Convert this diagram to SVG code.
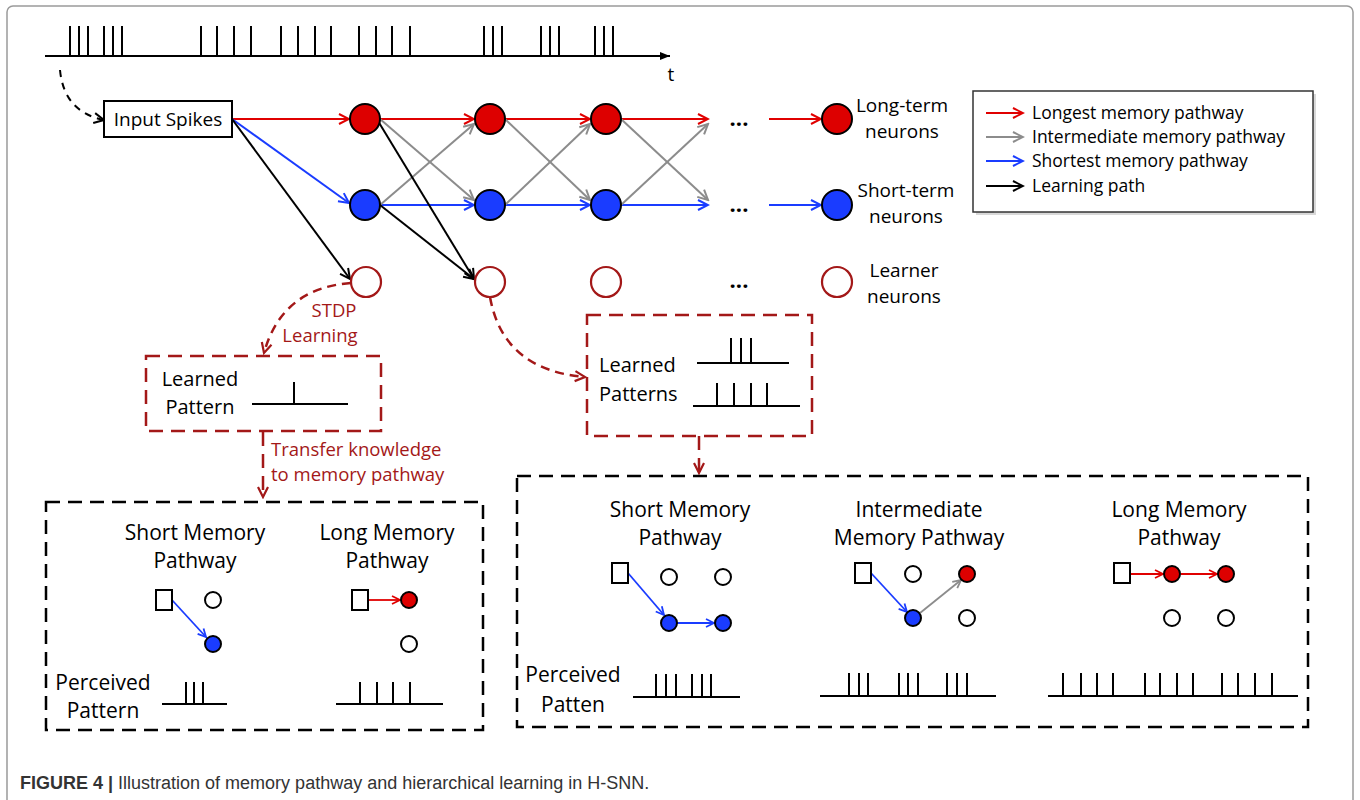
<svg xmlns="http://www.w3.org/2000/svg" width="1360" height="800" viewBox="0 0 1360 800">
<defs>
<style>
.lbl{font-family:"Open Sans","Liberation Sans",sans-serif;font-size:19px;fill:#000}
.leg{font-family:"Open Sans","Liberation Sans",sans-serif;font-size:17.5px;fill:#000}
.plbl{font-family:"Open Sans","Liberation Sans",sans-serif;font-size:20px;fill:#000}
.blbl{font-family:"Open Sans","Liberation Sans",sans-serif;font-size:21px;fill:#000}
.rlbl{font-family:"Open Sans","Liberation Sans",sans-serif;font-size:18.5px;fill:#a31818}
.dots{font-family:"Open Sans","Liberation Sans",sans-serif;font-size:22px;font-weight:bold;fill:#000}
.red{stroke:#e00000;stroke-width:2;fill:none;marker-end:url(#ar)}
.blue{stroke:#1a3cff;stroke-width:2;fill:none;marker-end:url(#ab)}
.gray{stroke:#8c8c8c;stroke-width:2;fill:none;marker-end:url(#ag)}
.blk{stroke:#000;stroke-width:2;fill:none;marker-end:url(#ak)}
.sred{stroke:#e00000;stroke-width:1.8;fill:none;marker-end:url(#sr)}
.sblue{stroke:#1a3cff;stroke-width:1.8;fill:none;marker-end:url(#sb)}
.sgray{stroke:#8c8c8c;stroke-width:1.8;fill:none;marker-end:url(#sg)}
.nr{fill:#dd0000;stroke:#000;stroke-width:2}
.nb{fill:#1a3cff;stroke:#000;stroke-width:2}
.nl{fill:#fff;stroke:#a31818;stroke-width:2.2}
.no{fill:#fff;stroke:#000;stroke-width:2}
.sq{fill:#fff;stroke:#000;stroke-width:2}
.spk{stroke:#000;stroke-width:2;fill:none}
.rdash{stroke:#a31818;stroke-width:2.5;fill:none;stroke-dasharray:14 8}
.kdash{stroke:#000;stroke-width:2.5;fill:none;stroke-dasharray:14 8}
.rcurve{stroke:#a31818;stroke-width:2.5;fill:none;stroke-dasharray:9 6;marker-end:url(#ad)}
</style>
<marker id="ar" markerUnits="userSpaceOnUse" markerWidth="14" markerHeight="14" viewBox="0 0 14 14" refX="12" refY="7" orient="auto"><path d="M2,2 L12,7 L2,12" fill="none" stroke="#e00000" stroke-width="2"/></marker>
<marker id="ab" markerUnits="userSpaceOnUse" markerWidth="14" markerHeight="14" viewBox="0 0 14 14" refX="12" refY="7" orient="auto"><path d="M2,2 L12,7 L2,12" fill="none" stroke="#1a3cff" stroke-width="2"/></marker>
<marker id="ag" markerUnits="userSpaceOnUse" markerWidth="14" markerHeight="14" viewBox="0 0 14 14" refX="12" refY="7" orient="auto"><path d="M2,2 L12,7 L2,12" fill="none" stroke="#8c8c8c" stroke-width="2"/></marker>
<marker id="ak" markerUnits="userSpaceOnUse" markerWidth="14" markerHeight="14" viewBox="0 0 14 14" refX="12" refY="7" orient="auto"><path d="M2,2 L12,7 L2,12" fill="none" stroke="#000" stroke-width="2"/></marker>
<marker id="ad" markerUnits="userSpaceOnUse" markerWidth="14" markerHeight="14" viewBox="0 0 14 14" refX="12" refY="7" orient="auto"><path d="M2,2 L12,7 L2,12" fill="none" stroke="#a31818" stroke-width="2.2"/></marker>
<marker id="sr" markerUnits="userSpaceOnUse" markerWidth="12" markerHeight="12" viewBox="0 0 12 12" refX="10" refY="6" orient="auto"><path d="M2,2 L10,6 L2,10" fill="none" stroke="#e00000" stroke-width="1.8"/></marker>
<marker id="sb" markerUnits="userSpaceOnUse" markerWidth="12" markerHeight="12" viewBox="0 0 12 12" refX="10" refY="6" orient="auto"><path d="M2,2 L10,6 L2,10" fill="none" stroke="#1a3cff" stroke-width="1.8"/></marker>
<marker id="sg" markerUnits="userSpaceOnUse" markerWidth="12" markerHeight="12" viewBox="0 0 12 12" refX="10" refY="6" orient="auto"><path d="M2,2 L10,6 L2,10" fill="none" stroke="#8c8c8c" stroke-width="1.8"/></marker>
<marker id="tri" markerUnits="userSpaceOnUse" markerWidth="12" markerHeight="12" viewBox="0 0 12 12" refX="11" refY="6" orient="auto"><path d="M1,2 L11,6 L1,10 Z" fill="#000"/></marker>
</defs>
<rect x="0" y="0" width="1360" height="800" fill="#fff"/>
<rect x="7" y="6" width="1346" height="830" rx="6" fill="none" stroke="#9a9a9a" stroke-width="1.5"/>

<g id="spike-train">
<path d="M45,56 L670,56" stroke="#000" stroke-width="2.2" fill="none" marker-end="url(#tri)"/>
<path class="spk" d="M70,26V56M79,26V56M88,26V56M104,26V56M113,26V56M122,26V56M201,26V56M217,26V56M234,26V56M251,26V56M281,26V56M298,26V56M315,26V56M331,26V56M359,26V56M376,26V56M392,26V56M410,26V56M484,26V56M493,26V56M502,26V56M541,26V56M550,26V56M559,26V56M595,26V56M604,26V56M613,26V56"/>
<text class="lbl" x="671" y="81" text-anchor="middle">t</text>
</g>

<g id="connectors">
<path d="M60,70 Q64,112 104,120" stroke="#000" stroke-width="2" fill="none" stroke-dasharray="7 6" marker-end="url(#ak)"/>
<path class="red" d="M232,119 L349,119"/>
<path class="red" d="M380,119 L474,119"/>
<path class="red" d="M505,119 L590,119"/>
<path class="red" d="M621,119 L708,119"/>
<path class="red" d="M769,119 L821,119"/>
<path class="blue" d="M232,119 L349,203"/>
<path class="blue" d="M380,205 L474,205"/>
<path class="blue" d="M505,205 L590,205"/>
<path class="blue" d="M621,205 L708,205"/>
<path class="blue" d="M769,205 L821,205"/>
<path class="gray" d="M380,119 L474,200"/>
<path class="gray" d="M380,205 L474,124"/>
<path class="gray" d="M505,119 L590,200"/>
<path class="gray" d="M505,205 L590,124"/>
<path class="gray" d="M621,119 L708,200"/>
<path class="gray" d="M621,205 L708,124"/>
<path class="blk" d="M232,119 L350,279"/>
<path class="blk" d="M378,121 L474,279"/>
<path class="blk" d="M380,205 L474,279"/>
<path class="rcurve" d="M351,283 Q282,288 264,353"/>
<path class="rcurve" d="M490,297 Q503,370 585,377"/>
<path class="rdash" d="M263,432 L263,497" stroke-dasharray="8 5" marker-end="url(#ad)"/>
<path class="rdash" d="M699,436 L699,473" stroke-dasharray="8 5" marker-end="url(#ad)"/>
</g>

<g id="input-spikes">
<rect x="104" y="101" width="128" height="36" fill="#fff" stroke="#000" stroke-width="2"/>
<text class="lbl" x="168" y="126" text-anchor="middle">Input Spikes</text>
</g>

<g id="long-term-neurons">
<circle class="nr" cx="365" cy="119" r="15"/>
<circle class="nr" cx="490" cy="119" r="15"/>
<circle class="nr" cx="606" cy="119" r="15"/>
<circle class="nr" cx="837" cy="119" r="15"/>
<text class="dots" x="739" y="126" text-anchor="middle">...</text>
<text class="lbl" x="902" y="112" text-anchor="middle">Long-term</text>
<text class="lbl" x="902" y="138" text-anchor="middle">neurons</text>
</g>

<g id="short-term-neurons">
<circle class="nb" cx="365" cy="205" r="15"/>
<circle class="nb" cx="490" cy="205" r="15"/>
<circle class="nb" cx="606" cy="205" r="15"/>
<circle class="nb" cx="837" cy="205" r="15"/>
<text class="dots" x="739" y="212" text-anchor="middle">...</text>
<text class="lbl" x="906" y="197" text-anchor="middle">Short-term</text>
<text class="lbl" x="906" y="223" text-anchor="middle">neurons</text>
</g>

<g id="learner-neurons">
<circle class="nl" cx="366" cy="282" r="15"/>
<circle class="nl" cx="490" cy="282" r="15"/>
<circle class="nl" cx="606" cy="282" r="15"/>
<circle class="nl" cx="837" cy="282" r="15"/>
<text class="dots" x="739" y="288" text-anchor="middle">...</text>
<text class="lbl" x="904" y="277" text-anchor="middle">Learner</text>
<text class="lbl" x="904" y="303" text-anchor="middle">neurons</text>
</g>

<g id="legend">
<rect x="976" y="94" width="340" height="121" fill="#d8d8d8"/>
<rect x="973" y="91" width="340" height="121" fill="#fff" stroke="#333" stroke-width="1.5"/>
<path class="red" d="M986,113 L1023,113"/>
<path class="gray" d="M986,137 L1023,137"/>
<path class="blue" d="M986,161 L1023,161"/>
<path class="blk" d="M986,186 L1023,186"/>
<text class="leg" x="1032" y="119">Longest memory pathway</text>
<text class="leg" x="1032" y="143">Intermediate memory pathway</text>
<text class="leg" x="1032" y="167">Shortest memory pathway</text>
<text class="leg" x="1032" y="192">Learning path</text>
</g>

<g id="stdp-label">
<text class="rlbl" x="334" y="317" text-anchor="middle">STDP</text>
<text class="rlbl" x="320" y="342" text-anchor="middle">Learning</text>
</g>

<g id="learned-pattern">
<rect class="rdash" x="146" y="356" width="235" height="75"/>
<text class="plbl" x="200" y="386" text-anchor="middle">Learned</text>
<text class="plbl" x="200" y="414" text-anchor="middle">Pattern</text>
<path class="spk" d="M252,404 L348,404 M294,382 V404"/>
</g>

<g id="transfer-label">
<text class="rlbl" x="271" y="456">Transfer knowledge</text>
<text class="rlbl" x="271" y="481">to memory pathway</text>
</g>

<g id="learned-patterns">
<rect class="rdash" x="587" y="315" width="225" height="121"/>
<text class="plbl" x="599" y="372">Learned</text>
<text class="plbl" x="599" y="401">Patterns</text>
<path class="spk" d="M697,363 L789,363 M731,338V363 M741,338V363 M751,338V363"/>
<path class="spk" d="M693,406 L800,406 M717,383V406 M734,383V406 M751,383V406 M767,383V406"/>
</g>

<g id="perceived-left">
<rect class="kdash" x="46" y="502" width="437" height="228"/>
<text class="blbl" x="195" y="540" text-anchor="middle">Short Memory</text>
<text class="blbl" x="195" y="568" text-anchor="middle">Pathway</text>
<text class="blbl" x="387" y="540" text-anchor="middle">Long Memory</text>
<text class="blbl" x="387" y="568" text-anchor="middle">Pathway</text>
<path class="sblue" d="M172,600 L206,637"/>
<rect class="sq" x="156" y="590" width="16" height="20"/>
<circle class="no" cx="213" cy="600" r="8"/>
<circle class="nb" cx="213" cy="644" r="8"/>
<path class="sred" d="M368,600 L400,600"/>
<rect class="sq" x="352" y="590" width="16" height="20"/>
<circle class="nr" cx="409" cy="600" r="8"/>
<circle class="no" cx="409" cy="644" r="8"/>
<text class="blbl" x="103" y="690" text-anchor="middle">Perceived</text>
<text class="blbl" x="103" y="718" text-anchor="middle">Pattern</text>
<path class="spk" d="M162,704 L227,704 M186,682V704 M194,682V704 M203,682V704"/>
<path class="spk" d="M336,704 L443,704 M360,682V704 M377,682V704 M393,682V704 M410,682V704"/>
</g>

<g id="perceived-right">
<rect class="kdash" x="517" y="476" width="791" height="251"/>
<text class="blbl" x="680" y="517" text-anchor="middle">Short Memory</text>
<text class="blbl" x="680" y="545" text-anchor="middle">Pathway</text>
<path class="sblue" d="M628,573 L664,615"/>
<path class="sblue" d="M677,623 L714,623"/>
<rect class="sq" x="612" y="563" width="16" height="20"/>
<circle class="no" cx="669" cy="577" r="8"/>
<circle class="no" cx="723" cy="577" r="8"/>
<circle class="nb" cx="669" cy="623" r="8"/>
<circle class="nb" cx="723" cy="623" r="8"/>

<text class="blbl" x="919" y="517" text-anchor="middle">Intermediate</text>
<text class="blbl" x="919" y="545" text-anchor="middle">Memory Pathway</text>
<path class="sblue" d="M871,573 L907,612"/>
<path class="sgray" d="M920,613 L961,580"/>
<rect class="sq" x="855" y="563" width="16" height="20"/>
<circle class="no" cx="913" cy="574" r="8"/>
<circle class="nr" cx="967" cy="574" r="8"/>
<circle class="nb" cx="913" cy="618" r="8"/>
<circle class="no" cx="967" cy="618" r="8"/>

<text class="blbl" x="1179" y="517" text-anchor="middle">Long Memory</text>
<text class="blbl" x="1179" y="545" text-anchor="middle">Pathway</text>
<path class="sred" d="M1130,574 L1163,574"/>
<path class="sred" d="M1181,574 L1217,574"/>
<rect class="sq" x="1114" y="563" width="16" height="20"/>
<circle class="nr" cx="1172" cy="574" r="8"/>
<circle class="nr" cx="1226" cy="574" r="8"/>
<circle class="no" cx="1172" cy="618" r="8"/>
<circle class="no" cx="1226" cy="618" r="8"/>

<text class="blbl" x="573" y="682" text-anchor="middle">Perceived</text>
<text class="blbl" x="573" y="712" text-anchor="middle">Patten</text>
<path class="spk" d="M633,697 L740,697 M656,674V697 M666,674V697 M676,674V697 M692,674V697 M702,674V697 M711,674V697"/>
<path class="spk" d="M820,696 L996,696 M849,673V696 M859,673V696 M868,673V696 M899,673V696 M908,673V696 M918,673V696 M947,673V696 M957,673V696 M967,673V696"/>
<path class="spk" d="M1048,696 L1298,696 M1063,673V696 M1081,673V696 M1097,673V696 M1113,673V696 M1145,673V696 M1160,673V696 M1177,673V696 M1193,673V696 M1222,673V696 M1238,673V696 M1255,673V696 M1272,673V696"/>
</g>

<g id="caption">
<text x="20" y="789" style="font-family:'Liberation Sans',Arial,sans-serif;font-size:18px;fill:#333"><tspan font-weight="bold">FIGURE 4 | </tspan>Illustration of memory pathway and hierarchical learning in H-SNN.</text>
</g>
</svg>
